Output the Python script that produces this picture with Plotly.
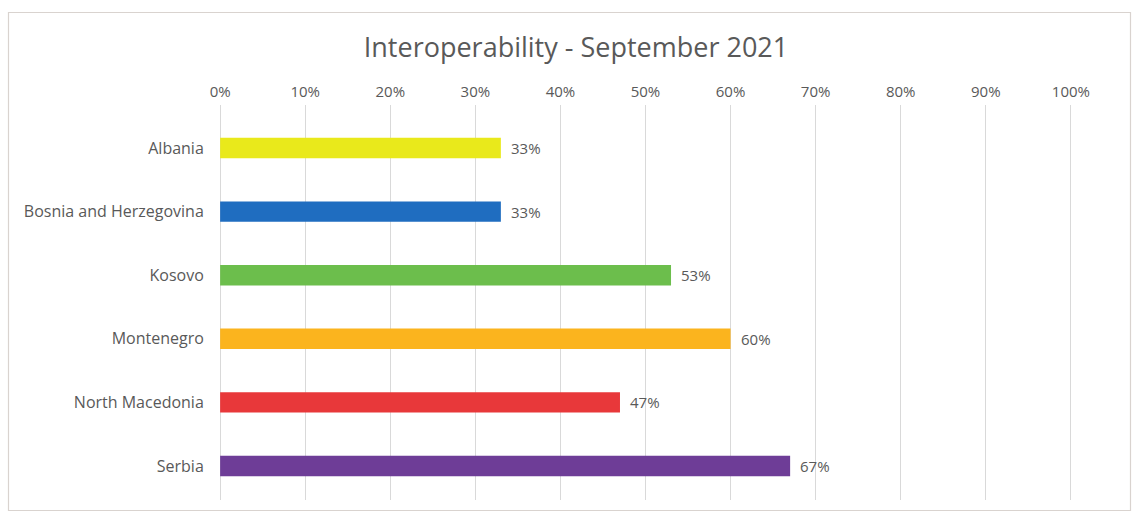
import plotly.graph_objects as go

countries = ["Albania", "Bosnia and Herzegovina", "Kosovo", "Montenegro", "North Macedonia", "Serbia"]
values = [33, 33, 53, 60, 47, 67]
colors = ["#E9E91B", "#1F6DC0", "#6CBE4C", "#FBB41E", "#E8383A", "#6E3D97"]
tick_vals = [0, 10, 20, 30, 40, 50, 60, 70, 80, 90, 100]
tick_text = [f"{v}%" for v in tick_vals]
title_text = "Interoperability - September 2021"

FONT = "Open Sans, Lato, sans-serif"
GREY = "#595959"

W, H = 1132, 512
pad_units = 0.25
# 0% at px 220, 100% at px 1071
unit = (1071 - 220) / 100.0
L = round(220 - pad_units * unit)
R = round(W - (1071 + pad_units * unit))
# plot area spans the gridline extent (y 105..500), categories centred at 148..466
T, B = 105, 12
pw, ph = W - L - R, H - T - B
step = (466 - 148) / 5.0
y_top = (T - 148) / step
y_bot = ((H - B) - 148) / step

def px_x(px):
    return (px - L) / pw

def px_y(py):
    return (H - B - py) / ph

fig = go.Figure(go.Bar(
    x=values,
    y=countries,
    orientation="h",
    marker=dict(color=colors, line=dict(width=0)),
    width=0.32,
    hoverinfo="skip",
))

label_annotations = [
    dict(x=v, y=c, xref="x", yref="y", text=f"{v}%", showarrow=False,
         xanchor="left", yanchor="middle", xshift=8,
         font=dict(family=FONT, size=15, color=GREY))
    for c, v in zip(countries, values)
]

fig.update_layout(
    width=W, height=H,
    margin=dict(l=L, r=R, t=T, b=B, pad=0),
    paper_bgcolor="white",
    plot_bgcolor="white",
    showlegend=False,
    title=dict(
        text=title_text,
        x=px_x(576), xref="paper", xanchor="center",
        y=1 - 48 / H, yref="container", yanchor="middle",
        font=dict(family=FONT, size=27, color=GREY),
    ),
    xaxis=dict(
        range=[-pad_units, 100 + pad_units],
        side="top",
        tickvals=tick_vals,
        ticktext=tick_text,
        tickfont=dict(family=FONT, size=15, color=GREY),
        showgrid=True,
        gridcolor="#D9D9D9",
        gridwidth=1,
        zeroline=False,
        showline=False,
        ticks="outside",
        ticklen=1,
        tickcolor="rgba(0,0,0,0)",
        fixedrange=True,
    ),
    yaxis=dict(
        range=[y_bot, y_top],
        categoryorder="array",
        categoryarray=countries,
        tickfont=dict(family=FONT, size=16, color=GREY),
        ticks="outside",
        ticklen=10,
        tickcolor="rgba(0,0,0,0)",
        showgrid=False,
        zeroline=False,
        showline=False,
        fixedrange=True,
    ),
    shapes=[
        dict(type="rect", xref="paper", yref="paper",
             x0=px_x(8.5), x1=px_x(1130.5), y0=px_y(510.5), y1=px_y(12.5),
             line=dict(color="#D9D3CF", width=1.2), fillcolor="rgba(0,0,0,0)", layer="below"),
    ],
    annotations=label_annotations,
)

fig.write_html(
    "out.html",
    config={"displayModeBar": False},
    post_script="document.body.style.margin='0';document.body.style.overflow='hidden';",
)
